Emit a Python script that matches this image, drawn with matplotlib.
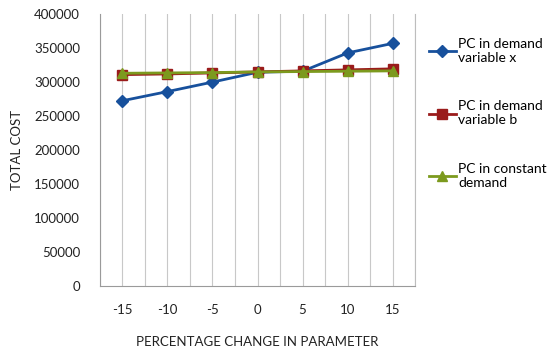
import matplotlib
matplotlib.use("Agg")
import matplotlib.pyplot as plt
import numpy as np

plt.rcParams['font.family'] = ['Lato', 'DejaVu Sans']

categories = ["-15", "-10", "-5", "0", "5", "10", "15"]
demand_x = [272500, 286000, 300000, 314500, 316000, 343000, 357000]
demand_b = [311000, 312000, 313500, 315000, 316500, 318000, 319500]
constant_demand = [313000, 313500, 314000, 315000, 315500, 316000, 316500]

series_labels = ["PC in demand\nvariable x", "PC in demand\nvariable b", "PC in constant\ndemand"]
colors = ["#17509C", "#9A1B1B", "#7C9A1E"]
markers = ["D", "s", "^"]
msizes = [6, 7, 7.5]

fig = plt.figure(figsize=(5.52, 3.49), dpi=100)
ax = fig.add_axes([0.1805, 0.1805, 0.572, 0.779])

x = np.arange(len(categories))
handles = []
for vals, c, m, ms, lab in zip([demand_x, demand_b, constant_demand], colors, markers, msizes, series_labels):
    h, = ax.plot(x, vals, color=c, marker=m, markersize=ms, linewidth=2.0,
                 markeredgecolor=c, label=lab, zorder=3)
    handles.append(h)

ax.set_xlim(-0.5, len(categories) - 0.5)
ax.set_ylim(0, 400000)
ax.set_yticks(np.arange(0, 400001, 50000))
ax.set_yticklabels([str(v) for v in range(0, 400001, 50000)])
ax.set_xticks(x)
ax.set_xticklabels(categories)
ax.set_xticks(np.arange(-0.5, len(categories), 1.0), minor=True)

ax.grid(axis='x', which='both', color='#C8C8C8', linewidth=0.8)
ax.tick_params(axis='both', which='both', length=0, labelsize=9.5, colors='#222222')
ax.tick_params(axis='y', pad=14)
ax.tick_params(axis='x', pad=13)

ax.spines['top'].set_visible(False)
ax.spines['right'].set_color('#BDBDBD')
ax.spines['left'].set_color('#9A9A9A')
ax.spines['bottom'].set_color('#9A9A9A')
ax.spines['left'].set_linewidth(0.8)
ax.spines['bottom'].set_linewidth(0.8)

ax.set_xlabel("PERCENTAGE CHANGE IN PARAMETER", fontsize=9.5, labelpad=14, color='#222222')
ax.set_ylabel("TOTAL COST", fontsize=9.5, labelpad=8, color='#222222')

fig.legend(handles=handles, labels=series_labels, loc='upper left',
           bbox_to_anchor=(0.755, 0.928), frameon=False, fontsize=10,
           handlelength=1.9, handletextpad=0.2, labelspacing=2.65)

fig.savefig("out.png", dpi=100)
